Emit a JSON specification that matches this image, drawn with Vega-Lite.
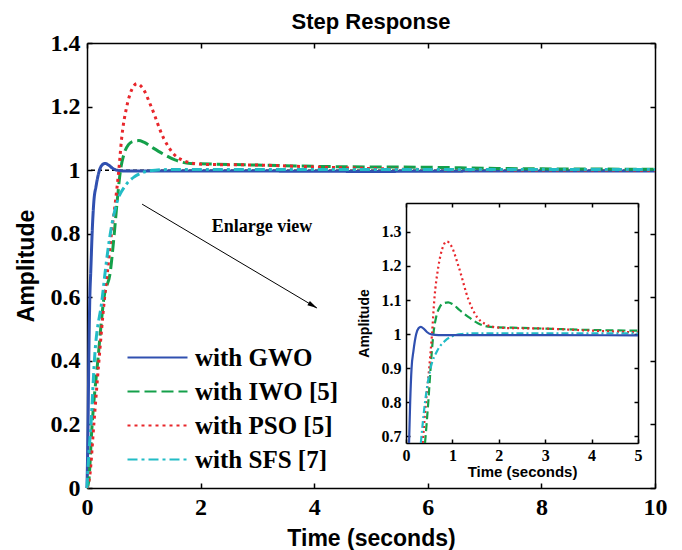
{
  "$schema": "https://vega.github.io/schema/vega-lite/v6.json",
  "width": 568,
  "height": 445,
  "autosize": {"type": "none"},
  "padding": {"left": 87, "top": 43, "right": 27, "bottom": 62},
  "background": "white",
  "title": {"text": "Step Response", "font": "Liberation Sans", "fontSize": 22, "fontWeight": "bold", "color": "black", "offset": -3, "frame": "group", "anchor": "middle"},
  "config": {
    "view": {"stroke": null},
    "axis": {
      "domainColor": "black", "domainWidth": 1.5, "tickColor": "black", "tickWidth": 1.5,
      "grid": false, "labelColor": "black", "titleColor": "black",
      "labelFlush": false, "labelOverlap": false,
      "labelFont": "Liberation Serif", "labelFontWeight": "bold",
      "titleFont": "Liberation Sans", "titleFontWeight": "bold"
    }
  },
  "datasets": {
    "note": [{}],
    "resp": [
      {"s": "with GWO", "t": 0, "y": 0},
      {"s": "with GWO", "t": 0.01, "y": 0.1},
      {"s": "with GWO", "t": 0.02, "y": 0.22},
      {"s": "with GWO", "t": 0.03, "y": 0.38},
      {"s": "with GWO", "t": 0.05, "y": 0.6},
      {"s": "with GWO", "t": 0.066, "y": 0.68},
      {"s": "with GWO", "t": 0.07, "y": 0.7},
      {"s": "with GWO", "t": 0.09, "y": 0.8},
      {"s": "with GWO", "t": 0.12, "y": 0.9},
      {"s": "with GWO", "t": 0.16, "y": 0.95},
      {"s": "with GWO", "t": 0.22, "y": 1.0},
      {"s": "with GWO", "t": 0.27, "y": 1.017},
      {"s": "with GWO", "t": 0.32, "y": 1.021},
      {"s": "with GWO", "t": 0.38, "y": 1.016},
      {"s": "with GWO", "t": 0.45, "y": 1.006},
      {"s": "with GWO", "t": 0.55, "y": 0.999},
      {"s": "with GWO", "t": 0.7, "y": 0.997},
      {"s": "with GWO", "t": 1.5, "y": 0.997},
      {"s": "with GWO", "t": 3, "y": 0.997},
      {"s": "with GWO", "t": 5, "y": 0.996},
      {"s": "with GWO", "t": 7, "y": 0.997},
      {"s": "with GWO", "t": 10, "y": 0.997},

      {"s": "with IWO [5]", "t": 0, "y": 0},
      {"s": "with IWO [5]", "t": 0.03, "y": 0.02},
      {"s": "with IWO [5]", "t": 0.09, "y": 0.2},
      {"s": "with IWO [5]", "t": 0.19, "y": 0.4},
      {"s": "with IWO [5]", "t": 0.3, "y": 0.6},
      {"s": "with IWO [5]", "t": 0.41, "y": 0.68},
      {"s": "with IWO [5]", "t": 0.48, "y": 0.8},
      {"s": "with IWO [5]", "t": 0.53, "y": 0.9},
      {"s": "with IWO [5]", "t": 0.59, "y": 1.0},
      {"s": "with IWO [5]", "t": 0.65, "y": 1.05},
      {"s": "with IWO [5]", "t": 0.73, "y": 1.08},
      {"s": "with IWO [5]", "t": 0.82, "y": 1.091},
      {"s": "with IWO [5]", "t": 0.91, "y": 1.093},
      {"s": "with IWO [5]", "t": 1.0, "y": 1.088},
      {"s": "with IWO [5]", "t": 1.16, "y": 1.07},
      {"s": "with IWO [5]", "t": 1.35, "y": 1.05},
      {"s": "with IWO [5]", "t": 1.55, "y": 1.032},
      {"s": "with IWO [5]", "t": 1.82, "y": 1.021},
      {"s": "with IWO [5]", "t": 2.5, "y": 1.018},
      {"s": "with IWO [5]", "t": 3, "y": 1.016},
      {"s": "with IWO [5]", "t": 4, "y": 1.012},
      {"s": "with IWO [5]", "t": 5, "y": 1.01},
      {"s": "with IWO [5]", "t": 6, "y": 1.009},
      {"s": "with IWO [5]", "t": 7, "y": 1.006},
      {"s": "with IWO [5]", "t": 8, "y": 1.004},
      {"s": "with IWO [5]", "t": 10, "y": 1.003},

      {"s": "with PSO [5]", "t": 0, "y": 0},
      {"s": "with PSO [5]", "t": 0.05, "y": 0.04},
      {"s": "with PSO [5]", "t": 0.12, "y": 0.2},
      {"s": "with PSO [5]", "t": 0.21, "y": 0.4},
      {"s": "with PSO [5]", "t": 0.31, "y": 0.6},
      {"s": "with PSO [5]", "t": 0.36, "y": 0.68},
      {"s": "with PSO [5]", "t": 0.43, "y": 0.8},
      {"s": "with PSO [5]", "t": 0.5, "y": 0.9},
      {"s": "with PSO [5]", "t": 0.56, "y": 1.0},
      {"s": "with PSO [5]", "t": 0.61, "y": 1.1},
      {"s": "with PSO [5]", "t": 0.7, "y": 1.2},
      {"s": "with PSO [5]", "t": 0.78, "y": 1.25},
      {"s": "with PSO [5]", "t": 0.88, "y": 1.272},
      {"s": "with PSO [5]", "t": 0.98, "y": 1.258},
      {"s": "with PSO [5]", "t": 1.13, "y": 1.2},
      {"s": "with PSO [5]", "t": 1.35, "y": 1.1},
      {"s": "with PSO [5]", "t": 1.53, "y": 1.05},
      {"s": "with PSO [5]", "t": 1.7, "y": 1.03},
      {"s": "with PSO [5]", "t": 1.85, "y": 1.022},
      {"s": "with PSO [5]", "t": 2.1, "y": 1.018},
      {"s": "with PSO [5]", "t": 3, "y": 1.016},
      {"s": "with PSO [5]", "t": 4, "y": 1.01},
      {"s": "with PSO [5]", "t": 5, "y": 1.005},
      {"s": "with PSO [5]", "t": 6, "y": 1.002},
      {"s": "with PSO [5]", "t": 7, "y": 1.001},
      {"s": "with PSO [5]", "t": 10, "y": 1.0},

      {"s": "with SFS [7]", "t": 0, "y": 0},
      {"s": "with SFS [7]", "t": 0.03, "y": 0.1},
      {"s": "with SFS [7]", "t": 0.07, "y": 0.2},
      {"s": "with SFS [7]", "t": 0.13, "y": 0.4},
      {"s": "with SFS [7]", "t": 0.27, "y": 0.6},
      {"s": "with SFS [7]", "t": 0.32, "y": 0.68},
      {"s": "with SFS [7]", "t": 0.41, "y": 0.8},
      {"s": "with SFS [7]", "t": 0.53, "y": 0.9},
      {"s": "with SFS [7]", "t": 0.67, "y": 0.95},
      {"s": "with SFS [7]", "t": 0.84, "y": 0.98},
      {"s": "with SFS [7]", "t": 1.02, "y": 0.995},
      {"s": "with SFS [7]", "t": 1.2, "y": 1.0},
      {"s": "with SFS [7]", "t": 1.5, "y": 1.002},
      {"s": "with SFS [7]", "t": 3, "y": 1.002},
      {"s": "with SFS [7]", "t": 5, "y": 1.002},
      {"s": "with SFS [7]", "t": 10, "y": 1.002}
    ]
  },
  "layer": [
    {
      "layer": [
        {"data": {"name": "note"}, "mark": {"type": "rule", "color": "black", "strokeDash": [4, 3], "strokeWidth": 1.5}, "encoding": {"y": {"datum": 1, "type": "quantitative"}}},
        {
          "data": {"name": "resp"},
          "mark": {"type": "line", "strokeWidth": 3, "interpolate": "monotone"},
          "encoding": {
            "x": {"field": "t", "type": "quantitative", "scale": {"domain": [0, 10], "nice": false},
              "axis": {"title": "Time (seconds)", "values": [0, 2, 4, 6, 8, 10], "format": "~g", "tickSize": -5, "labelFontSize": 24, "labelPadding": 12, "titleFontSize": 23, "titlePadding": 8}},
            "y": {"field": "y", "type": "quantitative", "scale": {"domain": [0, 1.4], "nice": false},
              "axis": {"title": "Amplitude", "values": [0, 0.2, 0.4, 0.6, 0.8, 1, 1.2, 1.4], "format": "~g", "tickSize": -5, "labelFontSize": 24, "labelPadding": 12, "titleFontSize": 23, "titlePadding": 12}},
            "color": {"field": "s", "type": "nominal",
              "scale": {"domain": ["with GWO", "with IWO [5]", "with PSO [5]", "with SFS [7]"], "range": ["#3050b0", "#14a04a", "#e8262b", "#22bcc6"]},
              "legend": {"orient": "none", "legendX": 58, "legendY": 302, "title": null, "padding": 0, "symbolType": "M-4,0H4", "symbolSize": 225, "symbolStrokeWidth": 2, "labelOffset": 25, "labelFont": "Liberation Serif", "labelFontSize": 25, "labelFontWeight": "bold", "labelColor": "black", "rowPadding": 8, "labelLimit": 400}},
            "strokeDash": {"field": "s", "type": "nominal",
              "scale": {"domain": ["with GWO", "with IWO [5]", "with PSO [5]", "with SFS [7]"], "range": [[1, 0], [12, 5], [3, 4], [10, 4, 3, 4]]},
              "legend": {"orient": "none", "legendX": 58, "legendY": 302, "title": null, "padding": 0, "symbolType": "M-4,0H4", "symbolSize": 225, "symbolStrokeWidth": 2, "labelOffset": 25, "labelFont": "Liberation Serif", "labelFontSize": 25, "labelFontWeight": "bold", "labelColor": "black", "rowPadding": 8, "labelLimit": 400}}
          }
        },
        {"data": {"name": "note"}, "mark": {"type": "text", "text": "Enlarge view", "font": "Liberation Serif", "fontWeight": "bold", "fontSize": 18, "color": "black", "align": "center", "baseline": "middle"},
          "encoding": {"x": {"datum": 3.08, "type": "quantitative"}, "y": {"datum": 0.821, "type": "quantitative"}}},
        {"data": {"name": "note"}, "mark": {"type": "rule", "color": "black", "strokeWidth": 1},
          "encoding": {"x": {"datum": 0.97, "type": "quantitative"}, "y": {"datum": 0.893, "type": "quantitative"}, "x2": {"datum": 4.05}, "y2": {"datum": 0.566}}},
        {"data": {"name": "note"}, "mark": {"type": "point", "shape": "M0,0L-0.4,1.6L0.4,1.6Z", "filled": true, "color": "black", "opacity": 1, "size": 150, "angle": 121},
          "encoding": {"x": {"datum": 4.05, "type": "quantitative"}, "y": {"datum": 0.566, "type": "quantitative"}}}
      ]
    },
    {
      "data": {"name": "resp"},
      "mark": {"type": "point", "opacity": 0},
      "encoding": {
        "x": {"field": "t", "type": "quantitative", "scale": {"domain": [0, 10], "nice": false},
          "axis": {"orient": "top", "title": null, "labels": false, "values": [0, 2, 4, 6, 8, 10], "tickSize": -5}},
        "y": {"field": "y", "type": "quantitative", "scale": {"domain": [0, 1.4], "nice": false},
          "axis": {"orient": "right", "title": null, "labels": false, "values": [0, 0.2, 0.4, 0.6, 0.8, 1, 1.2, 1.4], "tickSize": -5}}
      }
    },
    {
      "encoding": {
        "x": {"field": "t", "type": "quantitative", "scale": {"domain": [0, 5], "nice": false, "zero": false, "range": [319, 551]},
          "axis": {"orient": "bottom", "offset": -45, "title": "Time (seconds)", "values": [0, 1, 2, 3, 4, 5], "format": "~g", "tickSize": -4, "labelFontSize": 16, "labelPadding": 8, "titleFontSize": 15, "titlePadding": 1}},
        "y": {"field": "y", "type": "quantitative", "scale": {"domain": [0.68, 1.385], "nice": false, "zero": false, "range": [400, 160]},
          "axis": {"orient": "left", "offset": -319, "title": "Amplitude", "values": [0.7, 0.8, 0.9, 1, 1.1, 1.2, 1.3], "format": "~g", "tickSize": -4, "labelFontSize": 16, "labelPadding": 9, "titleFontSize": 14, "titlePadding": 10}}
      },
      "layer": [
        {"data": {"name": "note"}, "mark": {"type": "rule", "color": "black", "strokeDash": [3, 2], "strokeWidth": 1.5},
          "encoding": {"x": {"datum": 0, "type": "quantitative"}, "x2": {"datum": 5}, "y": {"datum": 1, "type": "quantitative"}}},
        {"data": {"name": "resp"}, "transform": [{"filter": "datum.s == 'with IWO [5]' && datum.y >= 0.68 && datum.t <= 5"}],
          "mark": {"type": "line", "color": "#14a04a", "strokeWidth": 2.2, "strokeDash": [8, 4], "interpolate": "monotone"}},
        {"data": {"name": "resp"}, "transform": [{"filter": "datum.s == 'with PSO [5]' && datum.y >= 0.68 && datum.t <= 5"}],
          "mark": {"type": "line", "color": "#e8262b", "strokeWidth": 2.2, "strokeDash": [2, 3], "interpolate": "monotone"}},
        {"data": {"name": "resp"}, "transform": [{"filter": "datum.s == 'with SFS [7]' && datum.y >= 0.68 && datum.t <= 5"}],
          "mark": {"type": "line", "color": "#22bcc6", "strokeWidth": 2.2, "strokeDash": [7, 3, 2, 3], "interpolate": "monotone"}},
        {"data": {"name": "resp"}, "transform": [{"filter": "datum.s == 'with GWO' && datum.y >= 0.68 && datum.t <= 5"}],
          "mark": {"type": "line", "color": "#3050b0", "strokeWidth": 2.2, "interpolate": "monotone"}},
        {"data": {"name": "note"}, "mark": {"type": "text", "text": "Step Response", "font": "Liberation Sans", "fontWeight": "bold", "fontSize": 15, "color": "black", "align": "center", "baseline": "middle", "dy": -13},
          "encoding": {"x": {"datum": 2.5, "type": "quantitative"}, "y": {"datum": 1.385, "type": "quantitative"}}}
      ]
    },
    {
      "data": {"name": "resp"},
      "transform": [{"filter": "datum.y >= 0.68 && datum.t <= 5"}],
      "mark": {"type": "point", "opacity": 0},
      "encoding": {
        "x": {"field": "t", "type": "quantitative", "scale": {"domain": [0, 5], "nice": false, "zero": false, "range": [319, 551]},
          "axis": {"orient": "top", "offset": -160, "title": null, "labels": false, "values": [0, 1, 2, 3, 4, 5], "tickSize": -4}},
        "y": {"field": "y", "type": "quantitative", "scale": {"domain": [0.68, 1.385], "nice": false, "zero": false, "range": [400, 160]},
          "axis": {"orient": "right", "offset": -17, "title": null, "labels": false, "values": [0.7, 0.8, 0.9, 1, 1.1, 1.2, 1.3], "tickSize": -4}}
      }
    }
  ],
  "resolve": {"scale": {"x": "independent", "y": "independent"}, "axis": {"x": "independent", "y": "independent"}}
}
